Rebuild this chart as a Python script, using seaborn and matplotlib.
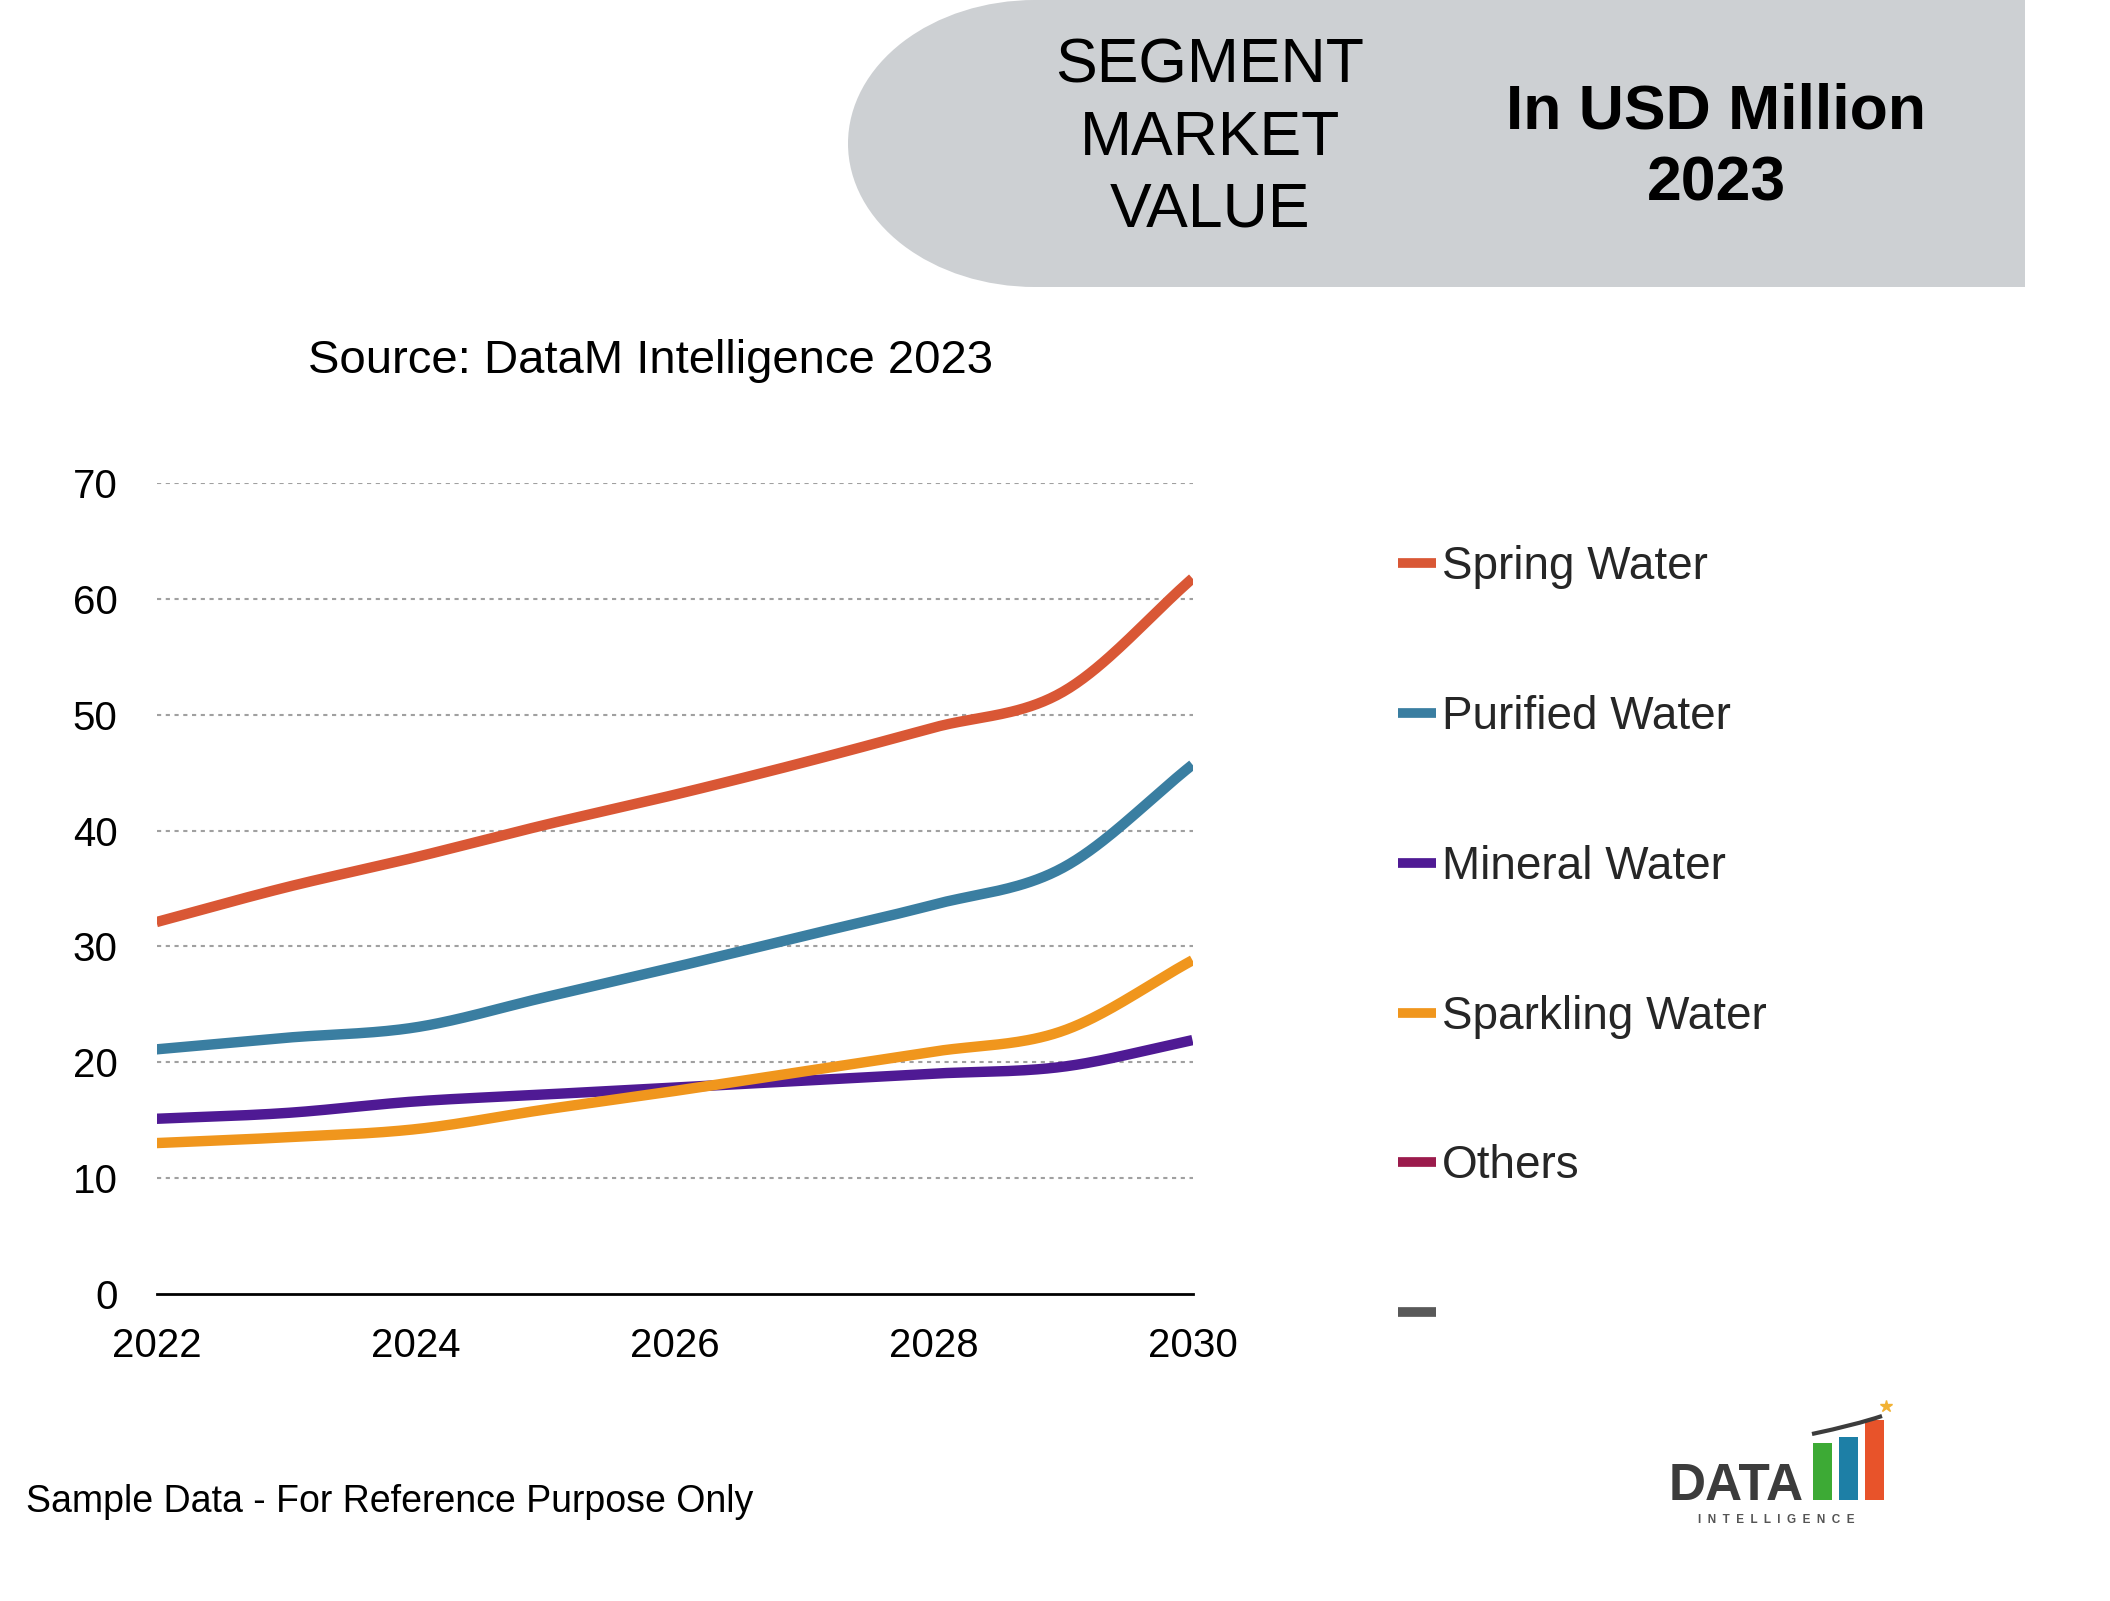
import numpy as np
import pandas as pd
import matplotlib
matplotlib.use("Agg")
import matplotlib.pyplot as plt
import seaborn as sns
from matplotlib.lines import Line2D
from matplotlib.patches import Rectangle, Ellipse, PathPatch
from matplotlib.path import Path

# ---------------- data ----------------
years = [2022, 2023, 2024, 2025, 2026, 2027, 2028, 2029, 2030]
spring_water = [32.1, 35.1, 37.7, 40.5, 43.1, 45.9, 48.9, 52.0, 61.8]
purified_water = [21.1, 22.1, 23.0, 25.6, 28.2, 30.9, 33.6, 36.8, 45.7]
mineral_water = [15.1, 15.6, 16.6, 17.2, 17.8, 18.4, 19.0, 19.6, 21.9]
sparkling_water = [13.0, 13.5, 14.2, 15.9, 17.5, 19.2, 20.9, 22.7, 28.8]
series_names = ["Spring Water", "Purified Water", "Mineral Water",
                "Sparkling Water", "Others", ""]
series_colors = ["#D95735", "#3A7EA1", "#4F1A94", "#F0961D", "#9B1B4C", "#595959"]
y_ticks = [0, 10, 20, 30, 40, 50, 60, 70]
x_ticks = [2022, 2024, 2026, 2028, 2030]

plotted = {
    "Spring Water": spring_water,
    "Purified Water": purified_water,
    "Mineral Water": mineral_water,
    "Sparkling Water": sparkling_water,
}


def smooth(xs, ys, n=40):
    """Excel-like smoothed line (uniform Catmull-Rom through the data points)."""
    p = np.column_stack([np.asarray(xs, float), np.asarray(ys, float)])
    p = np.vstack([2 * p[0] - p[1], p, 2 * p[-1] - p[-2]])
    out = []
    for i in range(1, len(p) - 2):
        p0, p1, p2, p3 = p[i - 1], p[i], p[i + 1], p[i + 2]
        t = np.linspace(0, 1, n, endpoint=(i == len(p) - 3))[:, None]
        pt = 0.5 * ((2 * p1) + (-p0 + p2) * t + (2 * p0 - 5 * p1 + 4 * p2 - p3) * t ** 2
                    + (-p0 + 3 * p1 - 3 * p2 + p3) * t ** 3)
        out.append(pt)
    out = np.vstack(out)
    return out[:, 0], out[:, 1]


rows = []
for name, vals in plotted.items():
    sx, sy = smooth(years, vals)
    rows.append(pd.DataFrame({"year": sx, "value": sy, "segment": name}))
df = pd.concat(rows, ignore_index=True)

# ---------------- figure ----------------
sns.set_theme(style="white")
plt.rcParams["font.family"] = ["Liberation Sans", "DejaVu Sans"]

W, H = 2110, 1601
fig = plt.figure(figsize=(W / 100, H / 100), dpi=100)
fig.patch.set_facecolor("white")

# overlay in pixel coordinates for decorations
ov = fig.add_axes([0, 0, 1, 1])
ov.set_xlim(0, W)
ov.set_ylim(H, 0)
ov.axis("off")

# main chart axes
left, right, top, bottom = 156.5, 1192.5, 483.5, 1293.5
ax = fig.add_axes([left / W, (H - bottom) / H, (right - left) / W, (bottom - top) / H])
ax.set_facecolor("none")

palette = dict(zip(series_names[:4], series_colors[:4]))
sns.lineplot(data=df, x="year", y="value", hue="segment", palette=palette,
             estimator=None, sort=False, linewidth=7.5, legend=False, ax=ax,
             solid_capstyle="butt")

ax.set_xlim(2022, 2030)
ax.set_ylim(0, 70)
ax.set_xticks(x_ticks)
ax.set_xticklabels([str(t) for t in x_ticks])
ax.set_yticks(y_ticks)
ax.set_yticklabels([str(t) for t in y_ticks])
ax.set_xlabel("")
ax.set_ylabel("")
for g in y_ticks[1:]:
    ax.axhline(g, color="#A0A0A0", linestyle=(0, (2, 2.2)), linewidth=1.5, zorder=0)
for s in ["top", "right", "left"]:
    ax.spines[s].set_visible(False)
ax.spines["bottom"].set_color("black")
ax.spines["bottom"].set_linewidth(2)
ax.tick_params(axis="both", length=0, labelsize=29, colors="black")
ax.tick_params(axis="y", pad=28)
ax.tick_params(axis="x", pad=24)
ax.grid(False)

# legend
handles = [Line2D([0], [0], color=c, linewidth=7, solid_capstyle="butt") for c in series_colors]
fig.legend(handles, series_names, loc="upper left",
           bbox_to_anchor=(1398 / W, (H - 545) / H), frameon=False,
           fontsize=33, handlelength=0.82, handletextpad=0.14,
           labelspacing=2.31, borderpad=0, borderaxespad=0)

# header shape
gray = "#CDD0D3"
ov.add_patch(Ellipse((1035, 143.5), 2 * 187, 287, facecolor=gray, edgecolor="none"))
ov.add_patch(Rectangle((1035, 0), 2025 - 1035, 287, facecolor=gray, edgecolor="none"))
ov.text(1210, 138, "SEGMENT\nMARKET\nVALUE", ha="center", va="center",
        fontsize=45, linespacing=1.29, color="black")
ov.text(1716, 148, "In USD Million\n2023", ha="center", va="center",
        fontsize=45, fontweight="bold", linespacing=1.29, color="black")

# source & footnote
ov.text(308, 361, "Source: DataM Intelligence 2023", ha="left", va="center",
        fontsize=34, color="black")
ov.text(26, 1502, "Sample Data - For Reference Purpose Only", ha="left", va="center",
        fontsize=27, color="black")

# logo
ov.text(1669, 1500, "DATA", ha="left", va="baseline", fontsize=37,
        fontweight="bold", color="#3C3C3C")
ov.add_patch(Rectangle((1813, 1443), 19, 57, facecolor="#3DAA35", edgecolor="none"))
ov.add_patch(Rectangle((1839, 1437), 19, 63, facecolor="#1D7FA6", edgecolor="none"))
ov.add_patch(Rectangle((1865, 1420), 19, 80, facecolor="#E8532A", edgecolor="none"))
arc = Path([(1812, 1434), (1855, 1425), (1882, 1416)],
           [Path.MOVETO, Path.CURVE3, Path.CURVE3])
ov.add_patch(PathPatch(arc, facecolor="none", edgecolor="#3C3C3C", linewidth=3))
ov.plot([1886], [1406], marker="*", color="#F2B233", markersize=9)
ov.text(1776, 1520, "I  N  T  E  L  L  I  G  E  N  C  E", ha="center", va="center",
        fontsize=8.5, fontweight="bold", color="#555555")

fig.savefig("out.png", dpi=100, facecolor="white")
